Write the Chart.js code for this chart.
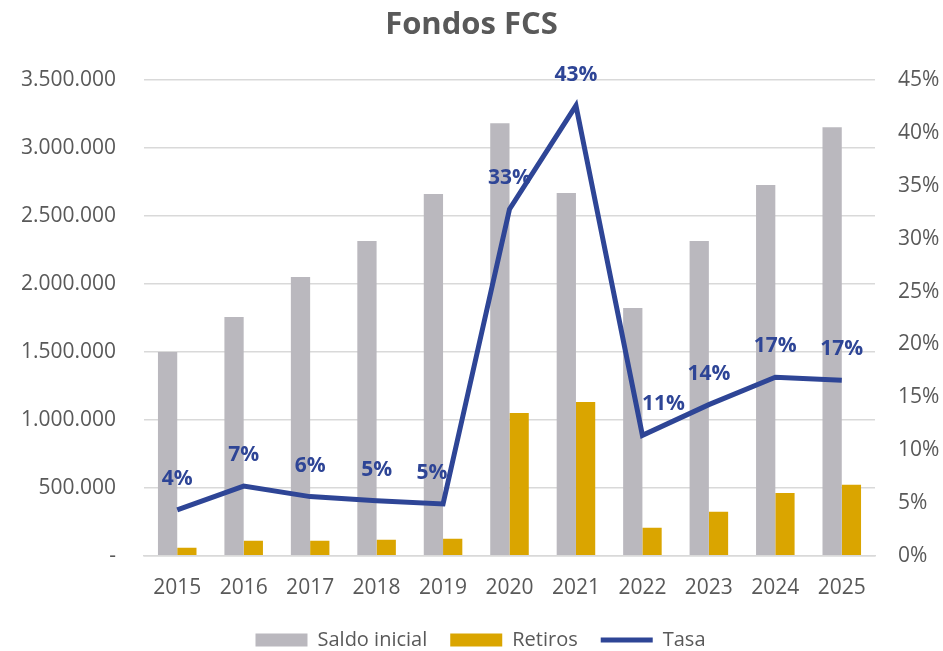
<!DOCTYPE html>
<html>
<head>
<meta charset="utf-8">
<script src="https://cdn.jsdelivr.net/npm/chart.js@4.4.0/dist/chart.umd.min.js"></script>
<style>
  html, body { margin: 0; padding: 0; background: #fff; }
  #wrap { width: 943px; height: 651px; }
</style>
</head>
<body>
<div id="wrap"><canvas id="c"></canvas></div>
<script>
const years = ['2015','2016','2017','2018','2019','2020','2021','2022','2023','2024','2025'];
const saldoInicial = [1500000, 1757000, 2051000, 2316000, 2662000, 3184000, 2669000, 1824000, 2316000, 2728000, 3154000];
const retiros = [59000, 110000, 110000, 118000, 125000, 1051000, 1132000, 206000, 324000, 463000, 522000];
const tasa = [4.35, 6.6, 5.6, 5.2, 4.9, 32.8, 42.6, 11.4, 14.3, 16.9, 16.6];

const BLUE = '#2E4596';
const GREY = '#BAB8BE';
const GOLD = '#DAA500';
const TXT = '#595959';
const FONT = "'Open Sans', 'Liberation Sans', sans-serif";

function fmtThousands(v) {
  if (v === 0) return '-';
  return String(Math.round(v)).replace(/\B(?=(\d{3})+(?!\d))/g, '.');
}

const lineLabels = {
  id: 'lineLabels',
  afterDatasetsDraw(chart, args, opts) {
    const ctx = chart.ctx;
    chart.data.datasets.forEach((ds, di) => {
      if (ds.type !== 'line') return;
      const meta = chart.getDatasetMeta(di);
      ctx.save();
      ctx.font = 'bold 21px ' + FONT;
      ctx.fillStyle = BLUE;
      ctx.textAlign = 'center';
      ctx.textBaseline = 'middle';
      meta.data.forEach((pt, i) => {
        const dx = (opts.dx && opts.dx[i]) || 0;
        ctx.fillText(Math.round(ds.data[i]) + '%', pt.x + dx, pt.y - 31);
      });
      ctx.restore();
    });
  }
};

// keeps the legend compact vertically while allowing wide horizontal spacing
const legendFix = {
  id: 'legendFix',
  beforeLayout(chart, args, opts) {
    const lg = chart.legend;
    if (lg && !lg._fixed) {
      const orig = lg.fit.bind(lg);
      lg.fit = function () { orig(); this.height = opts.height; };
      lg._fixed = true;
    }
  },
  afterLayout(chart, args, opts) {
    const lg = chart.legend;
    if (lg) {
      lg.top += opts.shift; lg.bottom = chart.height; lg.height = lg.bottom - lg.top;
      lg.left += opts.xShift; lg.width = lg.right - lg.left;
    }
  }
};

new Chart(document.getElementById('c'), {
  data: {
    labels: years,
    datasets: [
      { type: 'bar', label: 'Saldo inicial', data: saldoInicial, backgroundColor: GREY, borderWidth: 0, yAxisID: 'y', order: 1, pointStyle: 'rect' },
      { type: 'bar', label: 'Retiros', data: retiros, backgroundColor: GOLD, borderWidth: 0, yAxisID: 'y', order: 1, pointStyle: 'rect' },
      { type: 'line', label: 'Tasa', data: tasa, borderColor: BLUE, backgroundColor: BLUE, borderWidth: 5, pointRadius: 0, pointHoverRadius: 0, tension: 0, yAxisID: 'y2', order: 0, pointStyle: 'line' }
    ]
  },
  options: {
    responsive: true,
    maintainAspectRatio: false,
    animation: false,
    datasets: { bar: { categoryPercentage: 0.58, barPercentage: 1.0 } },
    layout: { padding: { left: 0, right: 0, top: 0, bottom: 0 } },
    plugins: {
      title: {
        display: true,
        text: 'Fondos FCS',
        color: TXT,
        font: { family: FONT, size: 31, weight: 'bold' },
        padding: { top: 7, bottom: 36 }
      },
      legend: {
        position: 'bottom',
        labels: {
          usePointStyle: true,
          pointStyleWidth: 52,
          boxHeight: 13,
          color: TXT,
          font: { family: FONT, size: 20 },
          padding: 23,
          sort: (a, b) => a.datasetIndex - b.datasetIndex
        }
      },
      legendFix: { height: 38, shift: -6, xShift: 18 },
      tooltip: { enabled: false },
      lineLabels: { dx: [0, 0, 0, 0, -11, 0, 0, 21, 0, 0, 0] }
    },
    scales: {
      x: {
        grid: { display: false },
        border: { display: true, color: '#D9D9D9', width: 1.5 },
        ticks: { color: TXT, font: { family: FONT, size: 21 }, padding: 12 }
      },
      y: {
        position: 'left',
        min: 0, max: 3500000,
        grid: { color: '#D9D9D9', lineWidth: 1.5, drawTicks: false },
        border: { display: false },
        ticks: { stepSize: 500000, color: TXT, font: { family: FONT, size: 21 }, padding: 28, callback: v => fmtThousands(v) },
        afterFit: s => { s.width = 144; }
      },
      y2: {
        position: 'right',
        min: 0, max: 45,
        grid: { display: false, drawTicks: false },
        border: { display: false },
        ticks: { stepSize: 5, color: TXT, font: { family: FONT, size: 21 }, padding: 23, callback: v => v + '%' },
        afterFit: s => { s.width = 68; }
      }
    }
  },
  plugins: [lineLabels, legendFix]
});
</script>
</body>
</html>
